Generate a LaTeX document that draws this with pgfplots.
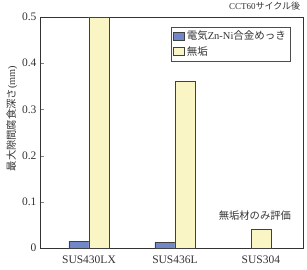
\documentclass[border=0pt]{standalone}
\usepackage{fontspec}
\setmainfont{Liberation Serif}
\newfontfamily\cjk{Noto Sans CJK JP}
\usepackage{pgfplots}
\pgfplotsset{compat=1.18}
\definecolor{barblue}{HTML}{7088C8}
\definecolor{baryellow}{HTML}{FAF5C5}
\begin{document}
\begin{tikzpicture}
\useasboundingbox (-40pt,-21pt) rectangle (267pt,248pt);
\begin{axis}[
  scale only axis,
  clip=false,
  width=263pt, height=231pt,
  xmin=-0.57, xmax=2.49,
  ymin=0, ymax=0.5,
  xtick={0,1,2},
  xticklabels={SUS430LX,SUS436L,SUS304},
  major x tick style={draw=none},
  extra x ticks={0.5,1.5},
  extra x tick labels={},
  extra x tick style={major tick length=4pt, tick style={draw=black}},
  ytick={0,0.1,0.2,0.3,0.4,0.5},
  yticklabel style={/pgf/number format/fixed,/pgf/number format/precision=1},
  ytick pos=left,
  xtick pos=bottom,
  tick align=inside,
  major tick length=4pt,
  /pgf/number format/assume math mode=true,
  tick label style={font=\fontsize{11.5}{13}\selectfont, text=black!80},
  ylabel={\cjk 最大隙間腐食深さ\rmfamily(mm)},
  ylabel style={font=\fontsize{10.3}{12}\selectfont, text=black!80, at={(ticklabel cs:0.56)}, yshift=-2pt},
  title={CCT60{\cjk サイクル後}},
  title style={font=\fontsize{9}{10}\selectfont, text=black!80, at={(rel axis cs:0.99,1)}, anchor=south east, inner sep=0pt, yshift=0.5pt},
  axis line style={black!80, line width=0.8pt},
  ybar, bar width=20pt,
  legend style={at={(rel axis cs:0.951,0.957)}, anchor=north east, font=\fontsize{10.5}{12}\selectfont, text=black!80, draw=black!70, inner sep=2pt, row sep=1pt, cells={anchor=west}},
  legend image code/.code={\draw[#1] (0pt,-4pt) rectangle (11pt,4pt);},
]
\addplot[fill=barblue, draw=black!75, line width=0.6pt, bar shift=-10pt] coordinates {(0,0.015) (1,0.013)};
\addlegendentry{{\cjk 電気}Zn-Ni{\cjk 合金めっき}}
\addplot[fill=baryellow, draw=black!75, line width=0.6pt, bar shift=10pt] coordinates {(0,0.5) (1,0.36)};
\addlegendentry{{\cjk 無垢}}
\addplot[fill=baryellow, draw=black!75, line width=0.6pt, bar shift=0pt, forget plot] coordinates {(2,0.04)};
\node[font=\cjk\fontsize{10.3}{12}\selectfont, text=black!80, anchor=south] at (axis cs:1.93,0.053) {無垢材のみ評価};
\end{axis}
\end{tikzpicture}
\end{document}
